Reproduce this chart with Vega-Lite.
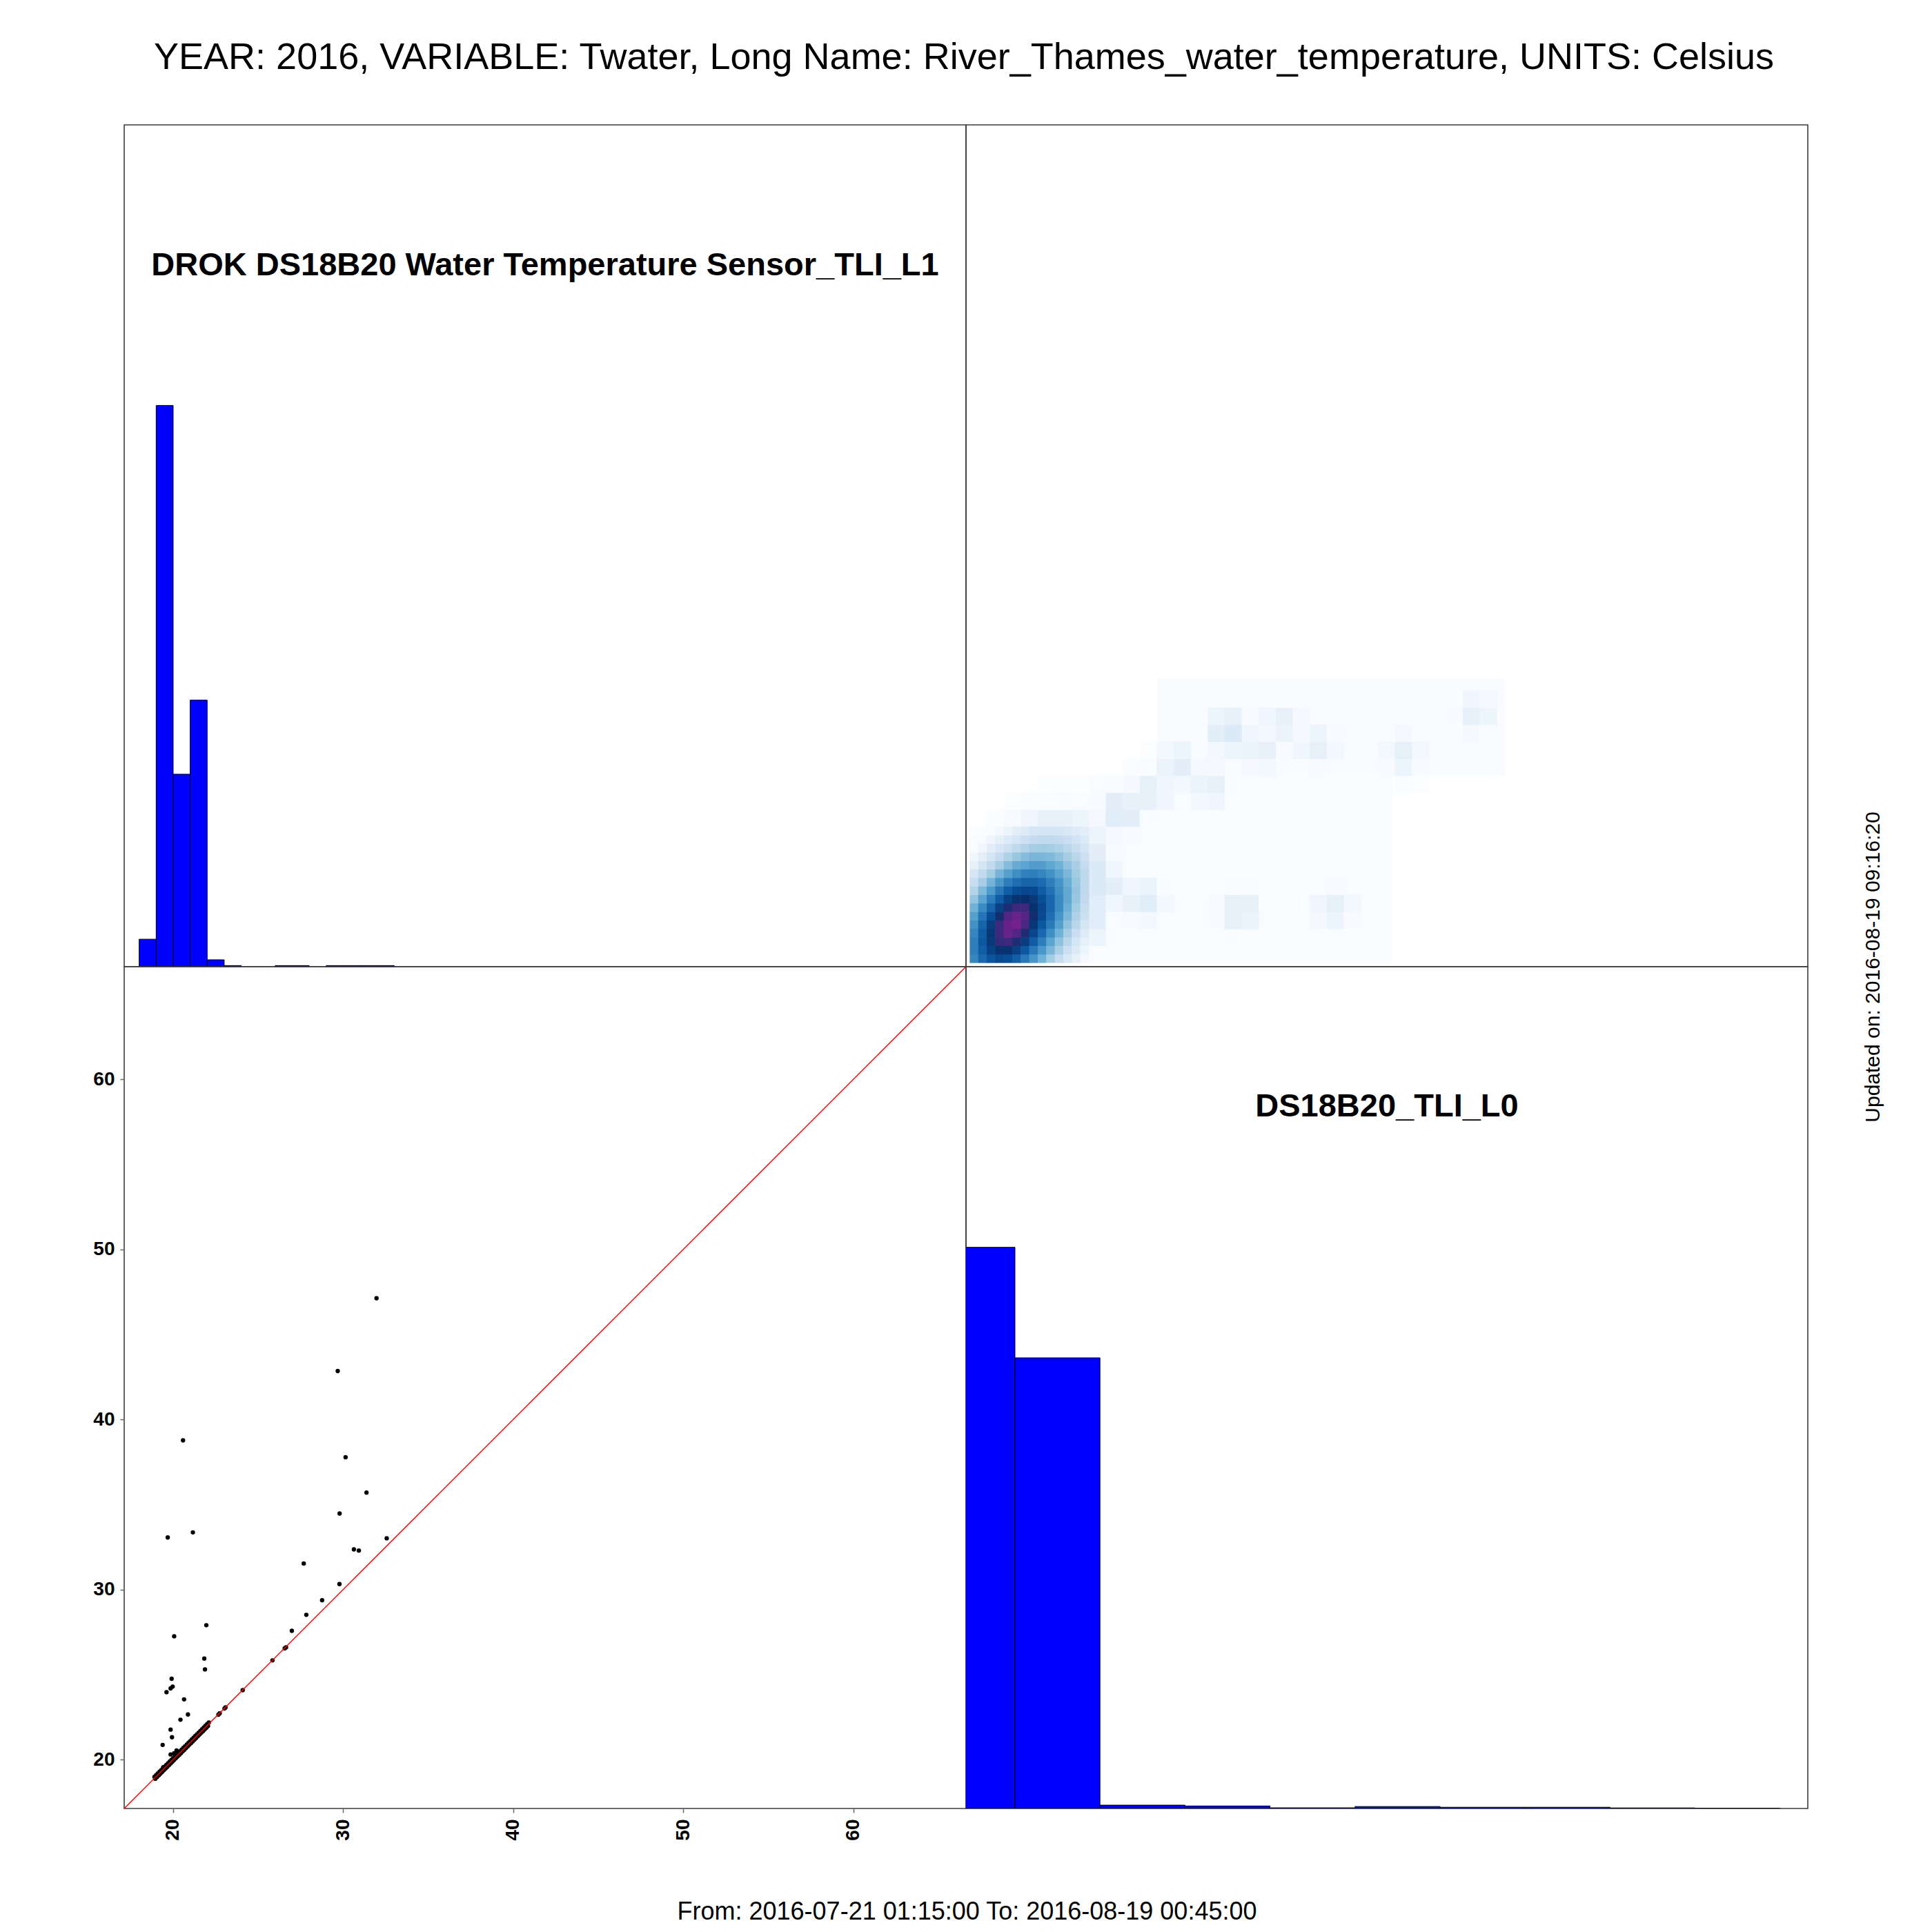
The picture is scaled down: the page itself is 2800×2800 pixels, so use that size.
{
"$schema": "https://vega.github.io/schema/vega-lite/v6.json",
"background": "white",
"padding": {"left": 134, "top": 57, "right": 5, "bottom": 5},
"title": {"text": "YEAR: 2016, VARIABLE: Twater, Long Name: River_Thames_water_temperature, UNITS: Celsius", "fontSize": 54, "fontWeight": "normal", "font": "Liberation Sans", "color": "black", "anchor": "start", "frame": "bounds", "dx": 89, "baseline": "alphabetic", "offset": 26},
"config": {
  "font": "Liberation Sans",
  "view": {"stroke": "#3d3d3d", "strokeWidth": 1.6},
  "concat": {"spacing": 0},
  "axis": {"grid": false, "domain": false, "labelFont": "Liberation Sans", "labelFontSize": 28, "labelFontWeight": "bold", "labelColor": "black", "tickColor": "#666666", "tickSize": 6, "tickWidth": 1.5, "labelPadding": 8}
},
"datasets": {
  "h1": [{"a":18,"b":19,"r":0.049},{"a":19,"b":20,"r":1},{"a":20,"b":21,"r":0.343},{"a":21,"b":22,"r":0.475},{"a":22,"b":23,"r":0.0123},{"a":23,"b":24,"r":0.002},{"a":26,"b":27,"r":0.002},{"a":27,"b":28,"r":0.002},{"a":29,"b":30,"r":0.002},{"a":30,"b":31,"r":0.002},{"a":31,"b":32,"r":0.002},{"a":32,"b":33,"r":0.002}],
  "h2": [{"a":15,"b":20,"r":1},{"a":20,"b":25,"r":0.803},{"a":25,"b":30,"r":0.006},{"a":30,"b":35,"r":0.0045},{"a":35,"b":40,"r":0.0012},{"a":40,"b":45,"r":0.0035},{"a":45,"b":50,"r":0.0022},{"a":50,"b":55,"r":0.0022},{"a":55,"b":60,"r":0.001},{"a":60,"b":65,"r":0.0006}],
  "pts": [
    {"v1":31.96,"v2":47.13},{"v1":29.68,"v2":42.85},{"v1":20.58,"v2":38.77},{"v1":30.14,"v2":37.78},{"v1":31.37,"v2":35.7},{"v1":29.79,"v2":34.47},{"v1":19.68,"v2":33.06},{"v1":21.16,"v2":33.36},{"v1":32.56,"v2":33.01},{"v1":30.63,"v2":32.36},{"v1":30.92,"v2":32.29},{"v1":27.68,"v2":31.53},{"v1":29.78,"v2":30.32},{"v1":28.76,"v2":29.37},{"v1":27.83,"v2":28.51},{"v1":26.98,"v2":27.57},{"v1":26.64,"v2":26.6},{"v1":26.56,"v2":26.54},{"v1":25.84,"v2":25.83},{"v1":24.09,"v2":24.08},{"v1":23.08,"v2":23.07},{"v1":23.02,"v2":23.0},{"v1":22.74,"v2":22.72},{"v1":22.66,"v2":22.64},{"v1":21.95,"v2":27.9},{"v1":20.06,"v2":27.25},{"v1":21.83,"v2":25.94},{"v1":21.87,"v2":25.3},{"v1":19.91,"v2":24.75},{"v1":19.97,"v2":24.29},{"v1":19.85,"v2":24.18},{"v1":19.61,"v2":23.96},{"v1":20.64,"v2":23.54},{"v1":20.87,"v2":22.65},{"v1":20.43,"v2":22.34},{"v1":19.85,"v2":21.76},{"v1":19.93,"v2":21.31},{"v1":19.38,"v2":20.86},{"v1":19.85,"v2":20.3},{"v1":20.06,"v2":20.37},{"v1":20.2,"v2":20.53},{"v1":19.42,"v2":19.55},
    {"v1":18.9,"v2":18.98},{"v1":19.0,"v2":19.08},{"v1":19.1,"v2":19.18},{"v1":19.2,"v2":19.28},{"v1":19.3,"v2":19.38},{"v1":19.4,"v2":19.48},{"v1":19.5,"v2":19.58},{"v1":19.6,"v2":19.68},{"v1":19.7,"v2":19.78},{"v1":19.8,"v2":19.88},{"v1":19.9,"v2":19.98},{"v1":20.0,"v2":20.08},{"v1":20.1,"v2":20.18},{"v1":20.2,"v2":20.28},{"v1":20.3,"v2":20.38},{"v1":20.4,"v2":20.48},{"v1":20.5,"v2":20.58},{"v1":20.6,"v2":20.68},{"v1":20.7,"v2":20.78},{"v1":20.8,"v2":20.88},{"v1":20.9,"v2":20.98},{"v1":21.0,"v2":21.08},{"v1":21.1,"v2":21.18},{"v1":21.2,"v2":21.28},{"v1":21.3,"v2":21.38},{"v1":21.4,"v2":21.48},{"v1":21.5,"v2":21.58},{"v1":21.6,"v2":21.68},{"v1":21.7,"v2":21.78},{"v1":21.8,"v2":21.88},{"v1":21.9,"v2":21.98},{"v1":22.0,"v2":22.08},{"v1":22.1,"v2":22.18},
    {"v1":18.95,"v2":18.87},{"v1":19.05,"v2":18.97},{"v1":19.15,"v2":19.07},{"v1":19.25,"v2":19.17},{"v1":19.35,"v2":19.27},{"v1":19.45,"v2":19.37},{"v1":19.55,"v2":19.47},{"v1":19.65,"v2":19.57},{"v1":19.75,"v2":19.67},{"v1":19.85,"v2":19.77},{"v1":19.95,"v2":19.87},{"v1":20.05,"v2":19.97},{"v1":20.15,"v2":20.07},{"v1":20.25,"v2":20.17},{"v1":20.35,"v2":20.27},{"v1":20.45,"v2":20.37},{"v1":20.55,"v2":20.47},{"v1":20.65,"v2":20.57},{"v1":20.75,"v2":20.67},{"v1":20.85,"v2":20.77},{"v1":20.95,"v2":20.87},{"v1":21.05,"v2":20.97},{"v1":21.15,"v2":21.07},{"v1":21.25,"v2":21.17},{"v1":21.35,"v2":21.27},{"v1":21.45,"v2":21.37},{"v1":21.55,"v2":21.47},{"v1":21.65,"v2":21.57},{"v1":21.75,"v2":21.67},{"v1":21.85,"v2":21.77},{"v1":21.95,"v2":21.87},{"v1":22.05,"v2":21.97}
  ],
  "dt": [{"x":24.35,"x2":42.2,"y":17.35,"y2":28.35,"t":0.08},{"x":28.35,"x2":48.8,"y":28.35,"y2":34.08,"t":0.09}],
  "dc": [
    {"x":24.85,"y":18.85,"t":0.14},{"x":32.85,"y":18.85,"t":0.09},{"x":33.85,"y":18.85,"t":0.08},
    {"x":24.85,"y":19.85,"t":0.19},{"x":25.85,"y":19.85,"t":0.09},{"x":26.85,"y":19.85,"t":0.1},{"x":27.85,"y":19.85,"t":0.12},{"x":28.85,"y":19.85,"t":0.08},{"x":31.85,"y":19.85,"t":0.1},{"x":32.85,"y":19.85,"t":0.17},{"x":33.85,"y":19.85,"t":0.15},{"x":37.85,"y":19.85,"t":0.11},{"x":38.85,"y":19.85,"t":0.14},{"x":39.85,"y":19.85,"t":0.1},
    {"x":24.85,"y":20.85,"t":0.19},{"x":25.85,"y":20.85,"t":0.13},{"x":26.85,"y":20.85,"t":0.16},{"x":27.85,"y":20.85,"t":0.19},{"x":28.85,"y":20.85,"t":0.12},{"x":31.85,"y":20.85,"t":0.1},{"x":32.85,"y":20.85,"t":0.17},{"x":33.85,"y":20.85,"t":0.16},{"x":34.85,"y":20.85,"t":0.08},{"x":37.85,"y":20.85,"t":0.13},{"x":38.85,"y":20.85,"t":0.17},{"x":39.85,"y":20.85,"t":0.12},
    {"x":24.85,"y":21.85,"t":0.21},{"x":25.85,"y":21.85,"t":0.18},{"x":26.85,"y":21.85,"t":0.13},{"x":27.85,"y":21.85,"t":0.15},{"x":28.85,"y":21.85,"t":0.09},{"x":32.85,"y":21.85,"t":0.09},{"x":33.85,"y":21.85,"t":0.09},{"x":37.85,"y":21.85,"t":0.08},{"x":38.85,"y":21.85,"t":0.1},
    {"x":24.85,"y":22.85,"t":0.21},{"x":25.85,"y":22.85,"t":0.13},{"x":26.85,"y":22.85,"t":0.08},
    {"x":24.85,"y":23.85,"t":0.18},{"x":25.85,"y":23.85,"t":0.1},
    {"x":24.85,"y":24.85,"t":0.14},{"x":25.85,"y":24.85,"t":0.11},{"x":26.85,"y":24.85,"t":0.1},
    {"x":18.85,"y":25.85,"t":0.06},{"x":19.85,"y":25.85,"t":0.1},{"x":20.85,"y":25.85,"t":0.13},{"x":21.85,"y":25.85,"t":0.16},{"x":22.85,"y":25.85,"t":0.16},{"x":23.85,"y":25.85,"t":0.14},{"x":24.85,"y":25.85,"t":0.11},{"x":25.85,"y":25.85,"t":0.19},{"x":26.85,"y":25.85,"t":0.18},{"x":27.85,"y":25.85,"t":0.09},
    {"x":19.85,"y":26.85,"t":0.04},{"x":20.85,"y":26.85,"t":0.06},{"x":21.85,"y":26.85,"t":0.08},{"x":22.85,"y":26.85,"t":0.09},{"x":23.85,"y":26.85,"t":0.08},{"x":24.85,"y":26.85,"t":0.1},{"x":25.85,"y":26.85,"t":0.18},{"x":26.85,"y":26.85,"t":0.16},{"x":27.85,"y":26.85,"t":0.16},{"x":28.85,"y":26.85,"t":0.13},{"x":30.85,"y":26.85,"t":0.12},{"x":31.85,"y":26.85,"t":0.13},{"x":32.85,"y":26.85,"t":0.08},
    {"x":21.85,"y":27.85,"t":0.04},{"x":22.85,"y":27.85,"t":0.04},{"x":23.85,"y":27.85,"t":0.04},{"x":25.85,"y":27.85,"t":0.09},{"x":26.85,"y":27.85,"t":0.11},{"x":27.85,"y":27.85,"t":0.17},{"x":28.85,"y":27.85,"t":0.13},{"x":29.85,"y":27.85,"t":0.12},{"x":30.85,"y":27.85,"t":0.15},{"x":31.85,"y":27.85,"t":0.16},{"x":32.85,"y":27.85,"t":0.09},{"x":42.85,"y":27.85,"t":0.06},{"x":43.85,"y":27.85,"t":0.04},
    {"x":26.85,"y":28.85,"t":0.06},{"x":27.85,"y":28.85,"t":0.09},{"x":28.85,"y":28.85,"t":0.15},{"x":29.85,"y":28.85,"t":0.18},{"x":30.85,"y":28.85,"t":0.11},{"x":31.85,"y":28.85,"t":0.11},{"x":33.85,"y":28.85,"t":0.11},{"x":34.85,"y":28.85,"t":0.12},{"x":37.85,"y":28.85,"t":0.1},{"x":41.85,"y":28.85,"t":0.1},{"x":42.85,"y":28.85,"t":0.14},{"x":43.85,"y":28.85,"t":0.1},
    {"x":27.85,"y":29.85,"t":0.05},{"x":28.85,"y":29.85,"t":0.12},{"x":29.85,"y":29.85,"t":0.14},{"x":30.85,"y":29.85,"t":0.09},{"x":31.85,"y":29.85,"t":0.12},{"x":32.85,"y":29.85,"t":0.14},{"x":33.85,"y":29.85,"t":0.15},{"x":34.85,"y":29.85,"t":0.16},{"x":35.85,"y":29.85,"t":0.1},{"x":36.85,"y":29.85,"t":0.13},{"x":37.85,"y":29.85,"t":0.17},{"x":38.85,"y":29.85,"t":0.12},{"x":41.85,"y":29.85,"t":0.12},{"x":42.85,"y":29.85,"t":0.17},{"x":43.85,"y":29.85,"t":0.12},
    {"x":31.85,"y":30.85,"t":0.18},{"x":32.85,"y":30.85,"t":0.21},{"x":33.85,"y":30.85,"t":0.13},{"x":34.85,"y":30.85,"t":0.12},{"x":35.85,"y":30.85,"t":0.15},{"x":36.85,"y":30.85,"t":0.11},{"x":37.85,"y":30.85,"t":0.14},{"x":38.85,"y":30.85,"t":0.1},{"x":42.85,"y":30.85,"t":0.11},{"x":46.85,"y":30.85,"t":0.11},{"x":47.85,"y":30.85,"t":0.09},
    {"x":31.85,"y":31.85,"t":0.14},{"x":32.85,"y":31.85,"t":0.16},{"x":33.85,"y":31.85,"t":0.1},{"x":34.85,"y":31.85,"t":0.13},{"x":35.85,"y":31.85,"t":0.16},{"x":36.85,"y":31.85,"t":0.11},{"x":45.85,"y":31.85,"t":0.1},{"x":46.85,"y":31.85,"t":0.17},{"x":47.85,"y":31.85,"t":0.14},
    {"x":35.85,"y":32.85,"t":0.09},{"x":46.85,"y":32.85,"t":0.13},{"x":47.85,"y":32.85,"t":0.11}
  ],
  "df": [
    {"x":17.6,"y":17.6,"t":0.64},{"x":18.1,"y":17.6,"t":0.73},{"x":18.6,"y":17.6,"t":0.79},{"x":19.1,"y":17.6,"t":0.82},{"x":19.6,"y":17.6,"t":0.81},{"x":20.1,"y":17.6,"t":0.76},{"x":20.6,"y":17.6,"t":0.68},{"x":21.1,"y":17.6,"t":0.59},{"x":21.6,"y":17.6,"t":0.49},{"x":22.1,"y":17.6,"t":0.39},{"x":22.6,"y":17.6,"t":0.3},{"x":23.1,"y":17.6,"t":0.22},{"x":23.6,"y":17.6,"t":0.16},{"x":24.1,"y":17.6,"t":0.11},
    {"x":17.6,"y":18.1,"t":0.66},{"x":18.1,"y":18.1,"t":0.76},{"x":18.6,"y":18.1,"t":0.85},{"x":19.1,"y":18.1,"t":0.89},{"x":19.6,"y":18.1,"t":0.89},{"x":20.1,"y":18.1,"t":0.85},{"x":20.6,"y":18.1,"t":0.78},{"x":21.1,"y":18.1,"t":0.68},{"x":21.6,"y":18.1,"t":0.58},{"x":22.1,"y":18.1,"t":0.47},{"x":22.6,"y":18.1,"t":0.37},{"x":23.1,"y":18.1,"t":0.27},{"x":23.6,"y":18.1,"t":0.2},{"x":24.1,"y":18.1,"t":0.14},
    {"x":17.6,"y":18.6,"t":0.66},{"x":18.1,"y":18.6,"t":0.78},{"x":18.6,"y":18.6,"t":0.87},{"x":19.1,"y":18.6,"t":0.94},{"x":19.6,"y":18.6,"t":0.95},{"x":20.1,"y":18.6,"t":0.92},{"x":20.6,"y":18.6,"t":0.86},{"x":21.1,"y":18.6,"t":0.77},{"x":21.6,"y":18.6,"t":0.66},{"x":22.1,"y":18.6,"t":0.54},{"x":22.6,"y":18.6,"t":0.43},{"x":23.1,"y":18.6,"t":0.33},{"x":23.6,"y":18.6,"t":0.24},{"x":24.1,"y":18.6,"t":0.17},
    {"x":17.6,"y":19.1,"t":0.64},{"x":18.1,"y":19.1,"t":0.77},{"x":18.6,"y":19.1,"t":0.88},{"x":19.1,"y":19.1,"t":0.95},{"x":19.6,"y":19.1,"t":0.99},{"x":20.1,"y":19.1,"t":0.97},{"x":20.6,"y":19.1,"t":0.92},{"x":21.1,"y":19.1,"t":0.83},{"x":21.6,"y":19.1,"t":0.73},{"x":22.1,"y":19.1,"t":0.61},{"x":22.6,"y":19.1,"t":0.49},{"x":23.1,"y":19.1,"t":0.38},{"x":23.6,"y":19.1,"t":0.28},{"x":24.1,"y":19.1,"t":0.2},
    {"x":17.6,"y":19.6,"t":0.6},{"x":18.1,"y":19.6,"t":0.74},{"x":18.6,"y":19.6,"t":0.86},{"x":19.1,"y":19.6,"t":0.95},{"x":19.6,"y":19.6,"t":0.99},{"x":20.1,"y":19.6,"t":1.0},{"x":20.6,"y":19.6,"t":0.96},{"x":21.1,"y":19.6,"t":0.88},{"x":21.6,"y":19.6,"t":0.78},{"x":22.1,"y":19.6,"t":0.67},{"x":22.6,"y":19.6,"t":0.55},{"x":23.1,"y":19.6,"t":0.43},{"x":23.6,"y":19.6,"t":0.33},{"x":24.1,"y":19.6,"t":0.24},
    {"x":17.6,"y":20.1,"t":0.55},{"x":18.1,"y":20.1,"t":0.69},{"x":18.6,"y":20.1,"t":0.81},{"x":19.1,"y":20.1,"t":0.91},{"x":19.6,"y":20.1,"t":0.97},{"x":20.1,"y":20.1,"t":0.99},{"x":20.6,"y":20.1,"t":0.97},{"x":21.1,"y":20.1,"t":0.91},{"x":21.6,"y":20.1,"t":0.82},{"x":22.1,"y":20.1,"t":0.71},{"x":22.6,"y":20.1,"t":0.59},{"x":23.1,"y":20.1,"t":0.47},{"x":23.6,"y":20.1,"t":0.36},{"x":24.1,"y":20.1,"t":0.27},
    {"x":17.6,"y":20.6,"t":0.49},{"x":18.1,"y":20.6,"t":0.62},{"x":18.6,"y":20.6,"t":0.74},{"x":19.1,"y":20.6,"t":0.85},{"x":19.6,"y":20.6,"t":0.92},{"x":20.1,"y":20.6,"t":0.95},{"x":20.6,"y":20.6,"t":0.95},{"x":21.1,"y":20.6,"t":0.9},{"x":21.6,"y":20.6,"t":0.83},{"x":22.1,"y":20.6,"t":0.73},{"x":22.6,"y":20.6,"t":0.62},{"x":23.1,"y":20.6,"t":0.5},{"x":23.6,"y":20.6,"t":0.39},{"x":24.1,"y":20.6,"t":0.29},
    {"x":17.6,"y":21.1,"t":0.42},{"x":18.1,"y":21.1,"t":0.54},{"x":18.6,"y":21.1,"t":0.66},{"x":19.1,"y":21.1,"t":0.77},{"x":19.6,"y":21.1,"t":0.85},{"x":20.1,"y":21.1,"t":0.89},{"x":20.6,"y":21.1,"t":0.9},{"x":21.1,"y":21.1,"t":0.87},{"x":21.6,"y":21.1,"t":0.81},{"x":22.1,"y":21.1,"t":0.73},{"x":22.6,"y":21.1,"t":0.62},{"x":23.1,"y":21.1,"t":0.52},{"x":23.6,"y":21.1,"t":0.41},{"x":24.1,"y":21.1,"t":0.31},
    {"x":17.6,"y":21.6,"t":0.35},{"x":18.1,"y":21.6,"t":0.46},{"x":18.6,"y":21.6,"t":0.57},{"x":19.1,"y":21.6,"t":0.68},{"x":19.6,"y":21.6,"t":0.76},{"x":20.1,"y":21.6,"t":0.81},{"x":20.6,"y":21.6,"t":0.83},{"x":21.1,"y":21.6,"t":0.82},{"x":21.6,"y":21.6,"t":0.77},{"x":22.1,"y":21.6,"t":0.7},{"x":22.6,"y":21.6,"t":0.61},{"x":23.1,"y":21.6,"t":0.52},{"x":23.6,"y":21.6,"t":0.42},{"x":24.1,"y":21.6,"t":0.32},
    {"x":17.6,"y":22.1,"t":0.29},{"x":18.1,"y":22.1,"t":0.38},{"x":18.6,"y":22.1,"t":0.48},{"x":19.1,"y":22.1,"t":0.58},{"x":19.6,"y":22.1,"t":0.66},{"x":20.1,"y":22.1,"t":0.71},{"x":20.6,"y":22.1,"t":0.74},{"x":21.1,"y":22.1,"t":0.74},{"x":21.6,"y":22.1,"t":0.72},{"x":22.1,"y":22.1,"t":0.66},{"x":22.6,"y":22.1,"t":0.59},{"x":23.1,"y":22.1,"t":0.5},{"x":23.6,"y":22.1,"t":0.41},{"x":24.1,"y":22.1,"t":0.32},
    {"x":17.6,"y":22.6,"t":0.23},{"x":18.1,"y":22.6,"t":0.31},{"x":18.6,"y":22.6,"t":0.39},{"x":19.1,"y":22.6,"t":0.48},{"x":19.6,"y":22.6,"t":0.55},{"x":20.1,"y":22.6,"t":0.61},{"x":20.6,"y":22.6,"t":0.65},{"x":21.1,"y":22.6,"t":0.66},{"x":21.6,"y":22.6,"t":0.64},{"x":22.1,"y":22.6,"t":0.6},{"x":22.6,"y":22.6,"t":0.54},{"x":23.1,"y":22.6,"t":0.47},{"x":23.6,"y":22.6,"t":0.39},{"x":24.1,"y":22.6,"t":0.32},
    {"x":17.6,"y":23.1,"t":0.17},{"x":18.1,"y":23.1,"t":0.24},{"x":18.6,"y":23.1,"t":0.31},{"x":19.1,"y":23.1,"t":0.38},{"x":19.6,"y":23.1,"t":0.45},{"x":20.1,"y":23.1,"t":0.51},{"x":20.6,"y":23.1,"t":0.54},{"x":21.1,"y":23.1,"t":0.56},{"x":21.6,"y":23.1,"t":0.56},{"x":22.1,"y":23.1,"t":0.53},{"x":22.6,"y":23.1,"t":0.49},{"x":23.1,"y":23.1,"t":0.43},{"x":23.6,"y":23.1,"t":0.37},{"x":24.1,"y":23.1,"t":0.3},
    {"x":17.6,"y":23.6,"t":0.13},{"x":18.1,"y":23.6,"t":0.18},{"x":18.6,"y":23.6,"t":0.24},{"x":19.1,"y":23.6,"t":0.3},{"x":19.6,"y":23.6,"t":0.36},{"x":20.1,"y":23.6,"t":0.41},{"x":20.6,"y":23.6,"t":0.45},{"x":21.1,"y":23.6,"t":0.47},{"x":21.6,"y":23.6,"t":0.47},{"x":22.1,"y":23.6,"t":0.46},{"x":22.6,"y":23.6,"t":0.43},{"x":23.1,"y":23.6,"t":0.38},{"x":23.6,"y":23.6,"t":0.33},{"x":24.1,"y":23.6,"t":0.27},
    {"x":17.6,"y":24.1,"t":0.09},{"x":18.1,"y":24.1,"t":0.13},{"x":18.6,"y":24.1,"t":0.18},{"x":19.1,"y":24.1,"t":0.23},{"x":19.6,"y":24.1,"t":0.27},{"x":20.1,"y":24.1,"t":0.32},{"x":20.6,"y":24.1,"t":0.35},{"x":21.1,"y":24.1,"t":0.38},{"x":21.6,"y":24.1,"t":0.39},{"x":22.1,"y":24.1,"t":0.38},{"x":22.6,"y":24.1,"t":0.36},{"x":23.1,"y":24.1,"t":0.33},{"x":23.6,"y":24.1,"t":0.29},{"x":24.1,"y":24.1,"t":0.24},
    {"x":17.6,"y":24.6,"t":0.07},{"x":18.1,"y":24.6,"t":0.09},{"x":18.6,"y":24.6,"t":0.13},{"x":19.1,"y":24.6,"t":0.17},{"x":19.6,"y":24.6,"t":0.21},{"x":20.1,"y":24.6,"t":0.24},{"x":20.6,"y":24.6,"t":0.27},{"x":21.1,"y":24.6,"t":0.3},{"x":21.6,"y":24.6,"t":0.31},{"x":22.1,"y":24.6,"t":0.31},{"x":22.6,"y":24.6,"t":0.3},{"x":23.1,"y":24.6,"t":0.28},{"x":23.6,"y":24.6,"t":0.25},{"x":24.1,"y":24.6,"t":0.21},
    {"x":17.6,"y":25.1,"t":0.04},{"x":18.1,"y":25.1,"t":0.06},{"x":18.6,"y":25.1,"t":0.09},{"x":19.1,"y":25.1,"t":0.12},{"x":19.6,"y":25.1,"t":0.15},{"x":20.1,"y":25.1,"t":0.18},{"x":20.6,"y":25.1,"t":0.2},{"x":21.1,"y":25.1,"t":0.23},{"x":21.6,"y":25.1,"t":0.24},{"x":22.1,"y":25.1,"t":0.24},{"x":22.6,"y":25.1,"t":0.24},{"x":23.1,"y":25.1,"t":0.22},{"x":23.6,"y":25.1,"t":0.2},{"x":24.1,"y":25.1,"t":0.18}
  ]
},
"columns": 2,
"spacing": 0,
"bounds": "flush",
"concat": [
  {"width": 1220, "height": 1220, "layer": [
    {"data": {"name": "h1"}, "mark": {"type": "rect", "fill": "#0000FF", "stroke": "black", "strokeWidth": 1, "clip": true},
     "encoding": {
       "x": {"field": "a", "type": "quantitative", "scale": {"domain": [17.12, 66.63], "nice": false, "zero": false}, "axis": null},
       "x2": {"field": "b"},
       "y": {"field": "r", "type": "quantitative", "scale": {"domain": [0, 1.5], "nice": false}, "axis": null},
       "y2": {"datum": 0}}},
    {"data": {"values": [{"s": "DROK DS18B20 Water Temperature Sensor_TLI_L1"}]}, "mark": {"type": "text", "fontSize": 47, "fontWeight": "bold", "font": "Liberation Sans", "baseline": "alphabetic", "align": "center", "color": "black"},
     "encoding": {"text": {"field": "s"}, "x": {"datum": 41.875}, "y": {"datum": 1.232}}}
  ]},
  {"width": 1220, "height": 1220, "layer": [
    {"data": {"name": "dt"}, "mark": {"type": "rect", "clip": true},
     "encoding": {
       "x": {"field": "x", "type": "quantitative", "scale": {"domain": [17.12, 66.63], "nice": false, "zero": false}, "axis": null},
       "x2": {"field": "x2"},
       "y": {"field": "y", "type": "quantitative", "scale": {"domain": [17.12, 66.63], "nice": false, "zero": false}, "axis": null},
       "y2": {"field": "y2"},
       "color": {"field": "t", "type": "quantitative", "scale": {"domain": [0,0.1,0.2,0.3,0.4,0.5,0.6,0.7,0.8,0.9,1], "range": ["#FFFFFF","#F7FBFF","#DEEBF7","#C6DBEF","#9ECAE1","#6BAED6","#4292C6","#2171B5","#08519C","#08306B","#74208F"], "interpolate": "rgb"}, "legend": null}}},
    {"data": {"name": "dc"}, "mark": {"type": "rect", "width": 25.2, "height": 25.2, "clip": true},
     "encoding": {
       "x": {"field": "x", "type": "quantitative", "axis": null},
       "y": {"field": "y", "type": "quantitative", "axis": null},
       "color": {"field": "t", "type": "quantitative", "legend": null}}},
    {"data": {"name": "df"}, "mark": {"type": "rect", "width": 12.9, "height": 12.9, "clip": true},
     "encoding": {
       "x": {"field": "x", "type": "quantitative", "axis": null},
       "y": {"field": "y", "type": "quantitative", "axis": null},
       "color": {"field": "t", "type": "quantitative", "legend": null}}}
  ]},
  {"width": 1220, "height": 1220, "layer": [
    {"data": {"name": "pts"}, "mark": {"type": "circle", "size": 40, "color": "black", "opacity": 1, "clip": true},
     "encoding": {
       "x": {"field": "v1", "type": "quantitative", "scale": {"domain": [17.12, 66.63], "nice": false, "zero": false},
             "axis": {"values": [20, 30, 40, 50, 60], "labelAngle": 270, "labelPadding": 9,
                      "title": "From: 2016-07-21 01:15:00 To: 2016-08-19 00:45:00", "titleFont": "Liberation Sans", "titleFontSize": 36, "titleFontWeight": "normal", "titleColor": "black", "titleAlign": "center", "titleBaseline": "alphabetic", "titleAngle": 0, "titleX": 1221, "titleY": 160}},
       "y": {"field": "v2", "type": "quantitative", "scale": {"domain": [17.12, 66.63], "nice": false, "zero": false}, "axis": {"values": [20, 30, 40, 50, 60], "labelAngle": 0, "title": null}}}},
    {"data": {"values": [{}]}, "mark": {"type": "rule", "color": "#FF0000", "strokeWidth": 1.5, "clip": true},
     "encoding": {"x": {"datum": 17.12}, "y": {"datum": 17.12}, "x2": {"datum": 66.63}, "y2": {"datum": 66.63}}}
  ]},
  {"width": 1220, "height": 1220, "layer": [
    {"data": {"name": "h2"}, "mark": {"type": "rect", "fill": "#0000FF", "stroke": "black", "strokeWidth": 1, "clip": true},
     "encoding": {
       "x": {"field": "a", "type": "quantitative", "scale": {"domain": [17.12, 66.63], "nice": false, "zero": false}, "axis": null},
       "x2": {"field": "b"},
       "y": {"field": "r", "type": "quantitative", "scale": {"domain": [0, 1.5], "nice": false},
             "axis": {"orient": "right", "labels": false, "ticks": false, "domain": false,
                      "title": "Updated on: 2016-08-19 09:16:20", "titleFont": "Liberation Sans", "titleFontSize": 30, "titleFontWeight": "normal", "titleColor": "black", "titleAngle": 270, "titleAlign": "center", "titleBaseline": "alphabetic", "titleX": 103, "titleY": 0}},
       "y2": {"datum": 0}}},
    {"data": {"values": [{"s": "DS18B20_TLI_L0"}]}, "mark": {"type": "text", "fontSize": 47, "fontWeight": "bold", "font": "Liberation Sans", "baseline": "alphabetic", "align": "center", "color": "black"},
     "encoding": {"text": {"field": "s"}, "x": {"datum": 41.875}, "y": {"datum": 1.233}}}
  ]}
]
}
